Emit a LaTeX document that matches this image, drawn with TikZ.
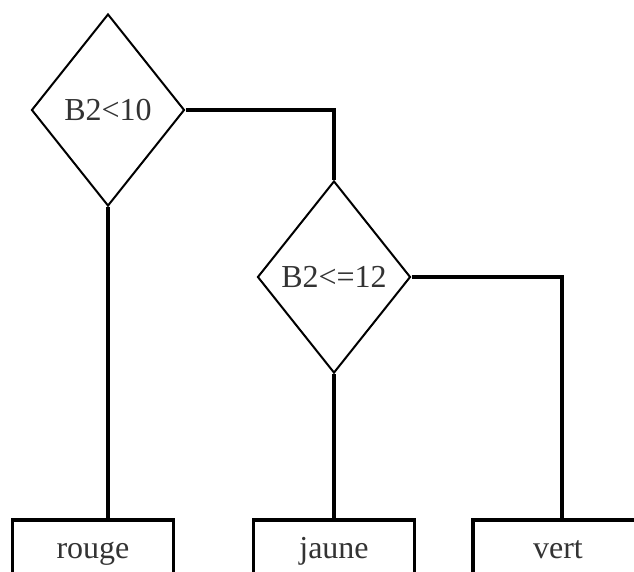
\documentclass[tikz,border=0pt]{standalone}
\usepackage{fontspec}
\setmainfont{Liberation Serif}
\usetikzlibrary{shapes.geometric}
\definecolor{textgray}{HTML}{333333}
\begin{document}
\begin{tikzpicture}[x=1pt,y=-1pt,
  cond/.style={diamond, draw=black, line width=2pt, minimum width=153pt,
    minimum height=192pt, inner sep=0pt, text=textgray,
    font=\fontsize{32}{36}\selectfont},
  outbox/.style={rectangle, draw=black, line width=3.5pt, minimum width=161pt,
    minimum height=62pt, inner sep=0pt, text=textgray, anchor=north,
    text height=22pt, text depth=7pt, font=\fontsize{32}{36}\selectfont},
  link/.style={line width=3.2pt}]
\useasboundingbox (0,0) rectangle (634,571);
\clip (0,0) rectangle (634,571);
\fill[white] (0,0) rectangle (634,571);
\node[cond] (d1) at (108,110) {B2<10};
\node[cond] (d2) at (334,277) {B2<=12};
\node[outbox] (rouge) at (93,518) {rouge};
\node[outbox] (jaune) at (334,518) {jaune};
\node[outbox, minimum width=184pt] (vert) at (565,518) {vert\hspace*{14pt}};
\coordinate (vtop) at (562,518);
\draw[link] (d1.south) -- (d1.south |- rouge.north);
\draw[link] (d1.east) -| (d2.north);
\draw[link] (d2.south) -- (jaune.north);
\draw[link] (d2.east) -| (vtop);
\end{tikzpicture}
\end{document}
